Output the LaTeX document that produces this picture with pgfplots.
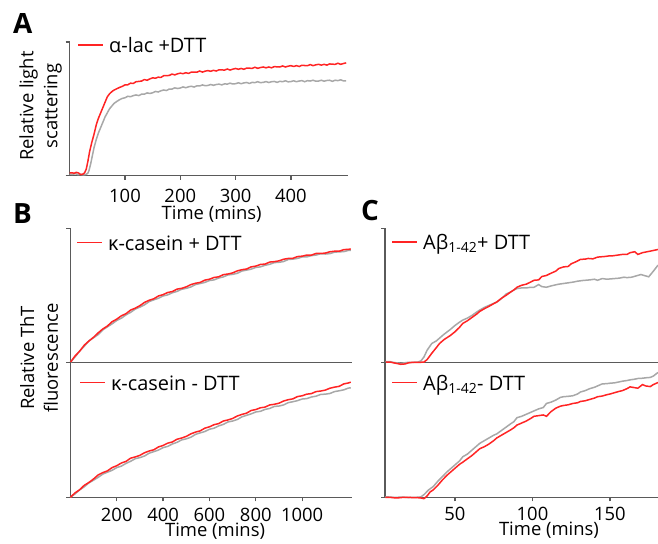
\documentclass[border=0pt]{standalone}
\usepackage{pgfplots}
\pgfplotsset{compat=1.18}
\usepackage{fontspec}
\setmainfont{Open Sans}
\definecolor{cred}{HTML}{FF2424}
\definecolor{cgray}{HTML}{A8A8A8}
\definecolor{caxis}{HTML}{5A5A5A}
\newcommand\tf{\fontsize{18.5}{22}\selectfont}
\newcommand\lf{\fontsize{20}{24}\selectfont}
\newcommand\legline{{\color{cred}\rule[6.9bp]{25bp}{1.5bp}}\hspace{6bp}}
\tikzset{leg/.style={anchor=base west, inner sep=0pt, font=\lf, text=black}}
\pgfplotsset{
  panel/.style={
    scale only axis, anchor=south west, clip=false,
    axis x line*=bottom, axis y line*=left,
    axis line style={draw=caxis, line width=1.4bp},
    ymin=0, ymax=1, ytick={0,1}, yticklabels={},
    tick align=outside, major tick length=4bp,
    tick style={draw=caxis, line width=1.2bp},
    tick label style={font=\tf, text=black},
    xticklabel style={anchor=north, inner sep=0pt, yshift=-6.2bp},
    label style={font=\fontsize{18.5}{24}\selectfont},
    /pgf/number format/assume math mode=true,
    /pgf/number format/set thousands separator={},
  },
  toppanel/.style={xmajorticks=false, xtick={0}, xticklabels={}},
  redl/.style={draw=cred, line width=1.5bp, no markers},
  grayl/.style={draw=cgray, line width=1.5bp, no markers},
}
\begin{document}
\begin{tikzpicture}
\useasboundingbox (0bp,0bp) rectangle (658bp,544bp);
\node[anchor=base west, inner sep=0pt, font=\fontsize{28}{30}\selectfont\bfseries] at (13bp,510.7bp) {A};
\node[anchor=base west, inner sep=0pt, font=\fontsize{28}{30}\selectfont\bfseries] at (13bp,320.7bp) {B};
\node[anchor=base west, inner sep=0pt, font=\fontsize{28}{30}\selectfont\bfseries] at (361bp,323bp) {C};

% ---------------- Panel A
\begin{axis}[panel, at={(69.7bp,368.3bp)}, width=278bp, height=133.7bp,
  xmin=0, xmax=502.7, xtick={100,200,300,400},
  xticklabel style={yshift=-3.4bp},
  xlabel={Time (mins)}, xlabel style={at={(axis description cs:0.5,0)}, anchor=base, yshift=-43.8bp, xshift=3bp},
  ylabel={Relative light\\scattering},
  ylabel style={at={(axis description cs:-0.0277,0.52)}, anchor=south, align=center, inner sep=0pt}]
\addplot[grayl] coordinates {
(0,0.012)(5,0.010)(10,0.015)(15,0.008)(20,0.010)(25,0.006)(30,0.010)(33,0.020)(35,0.040)(38,0.090)(41,0.150)(44,0.210)(48,0.270)(52,0.320)(56,0.360)(60,0.400)(64,0.440)(68,0.470)(72,0.500)(76,0.520)(80,0.540)(85,0.555)(90,0.568)(95,0.578)
(100,.583)(105,.594)(110,.591)(115,.599)(120,.604)(125,.599)(130,.610)(135,.610)(140,.619)(145,.615)(150,.620)(155,.630)(160,.626)(165,.635)(170,.641)(175,.637)(180,.648)(185,.648)(190,.657)(195,.652)(200,.656)(205,.664)(210,.658)(215,.665)(220,.669)(225,.663)(230,.672)(235,.671)(240,.679)(245,.673)(250,.675)(255,.682)(260,.676)(265,.682)(270,.685)(275,.679)(280,.687)(285,.685)(290,.692)(295,.686)(300,.688)(305,.695)(310,.688)(315,.694)(320,.697)(325,.690)(330,.698)(335,.696)(340,.703)(345,.696)(350,.698)(355,.704)(360,.697)(365,.703)(370,.705)(375,.698)(380,.706)(385,.703)(390,.710)(395,.702)(400,.704)(405,.710)(410,.703)(415,.708)(420,.711)(425,.703)(430,.711)(435,.708)(440,.714)(445,.707)(450,.708)(455,.714)(460,.707)(465,.712)(470,.714)(475,.706)(480,.714)(485,.711)(490,.717)(495,.709)(500,.710)};
\addplot[redl] coordinates {
(0,0.020)(4,0.022)(8,0.018)(12,0.025)(16,0.020)(20,0.008)(24,0.012)(27,0.022)(30,0.050)(33,0.110)(36,0.180)(40,0.250)(44,0.310)(48,0.380)(52,0.430)(56,0.470)(60,0.510)(64,0.550)(68,0.590)(72,0.612)(76,0.628)(80,0.640)(85,0.650)(90,0.660)(95,0.668)
(100,.679)(105,.680)(110,.692)(115,.690)(120,.703)(125,.705)(130,.708)(135,.719)(140,.714)(145,.724)(150,.732)(155,.729)(160,.737)(165,.735)(170,.748)(175,.748)(180,.750)(185,.760)(190,.754)(195,.762)(200,.767)(205,.763)(210,.770)(215,.765)(220,.775)(225,.774)(230,.774)(235,.783)(240,.775)(245,.782)(250,.786)(255,.781)(260,.788)(265,.783)(270,.792)(275,.791)(280,.790)(285,.798)(290,.790)(295,.797)(300,.802)(305,.796)(310,.802)(315,.796)(320,.805)(325,.804)(330,.803)(335,.811)(340,.803)(345,.809)(350,.813)(355,.807)(360,.813)(365,.807)(370,.816)(375,.814)(380,.813)(385,.821)(390,.813)(395,.819)(400,.823)(405,.817)(410,.823)(415,.817)(420,.826)(425,.824)(430,.823)(435,.831)(440,.823)(445,.829)(450,.833)(455,.827)(460,.833)(465,.827)(470,.836)(475,.834)(480,.833)(485,.841)(490,.833)(495,.839)(500,.844)};
\node[leg] at (axis description cs:0.030,0.92) {\legline α-lac +DTT};
\end{axis}

% ---------------- Panel B top
\begin{axis}[panel, toppanel, at={(70.4bp,181.7bp)}, width=281.3bp, height=134bp,
  xmin=0, xmax=1214]
\addplot[grayl] coordinates {
(0,0)(20,.040)(40,.084)(60,.120)(80,.160)(100,.183)(120,.207)(140,.242)(160,.265)(180,.287)(200,.312)(220,.329)(240,.354)(260,.373)(280,.397)(300,.412)(320,.429)(340,.453)(360,.466)(380,.478)(400,.495)(420,.503)(440,.519)(460,.529)(480,.545)(500,.552)(520,.562)(540,.580)(560,.588)(580,.596)(600,.610)(620,.615)(640,.629)(660,.637)(680,.652)(700,.656)(720,.664)(740,.681)(760,.688)(780,.695)(800,.708)(820,.712)(840,.724)(860,.731)(880,.744)(900,.746)(920,.752)(940,.767)(960,.770)(980,.775)(1000,.786)(1020,.786)(1040,.796)(1060,.800)(1080,.810)(1100,.808)(1120,.811)(1140,.822)(1160,.824)(1180,.826)(1200,.835)(1210,.835)};
\addplot[redl] coordinates {
(0,0)(20,.047)(40,.083)(60,.128)(80,.159)(100,.187)(120,.220)(140,.249)(160,.271)(180,.303)(200,.322)(220,.347)(240,.363)(260,.390)(280,.404)(300,.423)(320,.447)(340,.463)(360,.474)(380,.495)(400,.505)(420,.521)(440,.528)(460,.546)(480,.552)(500,.563)(520,.580)(540,.590)(560,.596)(580,.613)(600,.620)(620,.633)(640,.638)(660,.654)(680,.659)(700,.667)(720,.682)(740,.691)(760,.696)(780,.712)(800,.718)(820,.730)(840,.733)(860,.748)(880,.751)(900,.757)(920,.769)(940,.775)(960,.776)(980,.789)(1000,.792)(1020,.800)(1040,.800)(1060,.812)(1080,.812)(1100,.815)(1120,.825)(1140,.829)(1160,.829)(1180,.841)(1200,.843)(1210,.846)};
\node[leg] at (axis description cs:0.0235,0.838) {\legline κ-casein + DTT};
\end{axis}

% ---------------- Panel B bottom
\begin{axis}[panel, at={(70.4bp,46.7bp)}, width=281.3bp, height=135bp,
  xmin=0, xmax=1214, xtick={200,400,600,800,1000},
  xlabel={Time (mins)}, xlabel style={at={(axis description cs:0.5,0)}, anchor=base, yshift=-39bp, xshift=4bp},
  ylabel={Relative ThT\\fluorescence},
  ylabel style={at={(axis description cs:-0.043,1.032)}, anchor=south, align=center, inner sep=0pt}]
\addplot[grayl] coordinates {
(0,0)(20,.025)(40,.055)(60,.078)(80,.107)(100,.127)(120,.148)(140,.172)(160,.186)(180,.200)(200,.220)(220,.231)(240,.251)(260,.267)(280,.286)(300,.294)(320,.306)(340,.327)(360,.338)(380,.350)(400,.368)(420,.377)(440,.395)(460,.407)(480,.425)(500,.433)(520,.445)(540,.466)(560,.477)(580,.487)(600,.504)(620,.512)(640,.529)(660,.540)(680,.558)(700,.565)(720,.576)(740,.596)(760,.607)(780,.618)(800,.632)(820,.637)(840,.651)(860,.658)(880,.673)(900,.676)(920,.684)(940,.701)(960,.708)(980,.716)(1000,.728)(1020,.731)(1040,.743)(1060,.749)(1080,.762)(1100,.764)(1120,.769)(1140,.783)(1160,.789)(1180,.796)(1200,.809)(1210,.811)};
\addplot[redl] coordinates {
(0,0)(20,.033)(40,.056)(60,.089)(80,.110)(100,.136)(120,.166)(140,.183)(160,.196)(180,.220)(200,.234)(220,.254)(240,.266)(260,.290)(280,.299)(300,.311)(320,.330)(340,.343)(360,.352)(380,.373)(400,.384)(420,.401)(440,.410)(460,.430)(480,.439)(500,.451)(520,.470)(540,.483)(560,.492)(580,.512)(600,.522)(620,.538)(640,.546)(660,.565)(680,.573)(700,.584)(720,.602)(740,.614)(760,.623)(780,.643)(800,.650)(820,.663)(840,.668)(860,.684)(880,.689)(900,.697)(920,.713)(940,.723)(960,.729)(980,.746)(1000,.752)(1020,.764)(1040,.768)(1060,.783)(1080,.787)(1100,.794)(1120,.808)(1140,.816)(1160,.822)(1180,.840)(1200,.847)(1210,.853)};
\node[leg] at (axis description cs:0.034,0.792) {\legline κ-casein - DTT};
\end{axis}

% ---------------- Panel C top
\begin{axis}[panel, toppanel, at={(385bp,181.7bp)}, width=273bp, height=134bp,
  xmin=4.84, xmax=181]
\addplot[grayl] coordinates {
(5,0.005)(8,0.005)(10,0.000)(13,-0.005)(15,-0.008)(18,-0.003)(20,0.000)(23,0.000)(26,0.002)(28,0.010)(30,0.040)(32,0.090)(35,0.140)(38,0.160)(40,0.180)(43,0.210)(47,0.245)(50,0.275)(53,0.300)(55,0.315)(58,0.330)(61,0.350)(64,0.375)(66,0.390)(69,0.410)(72,0.425)(75,0.440)(77,0.450)(80,0.475)(83,0.510)(86,0.525)(88,0.540)(90,0.550)(93,0.555)(96,0.555)(99,0.560)(101,0.560)(104,0.580)(106,0.565)(109,0.560)(112,0.570)(115,0.578)(117,0.583)(120,0.588)(123,0.593)(126,0.598)(129,0.605)(132,0.610)(134,0.612)(137,0.615)(140,0.620)(142,0.612)(145,0.625)(148,0.620)(150,0.622)(153,0.625)(156,0.628)(159,0.635)(161,0.632)(164,0.635)(167,0.645)(170,0.655)(172,0.648)(175,0.638)(178,0.680)(181,0.725)};
\addplot[redl] coordinates {
(5,0.000)(8,0.002)(10,-0.003)(13,-0.010)(15,-0.015)(18,-0.012)(20,-0.004)(23,0.000)(25,0.000)(28,0.000)(30,0.002)(32,0.020)(35,0.067)(38,0.110)(40,0.140)(43,0.170)(47,0.200)(50,0.228)(53,0.262)(55,0.290)(58,0.310)(61,0.335)(64,0.360)(66,0.380)(69,0.400)(72,0.418)(75,0.438)(77,0.450)(80,0.478)(83,0.500)(86,0.525)(88,0.540)(90,0.560)(93,0.575)(96,0.583)(99,0.600)(101,0.612)(104,0.615)(106,0.640)(109,0.648)(112,0.665)(115,0.680)(117,0.700)(120,0.712)(123,0.715)(125,0.735)(128,0.750)(131,0.768)(134,0.770)(136,0.775)(139,0.772)(142,0.785)(145,0.788)(147,0.790)(150,0.795)(152,0.795)(155,0.800)(158,0.805)(161,0.805)(163,0.818)(166,0.825)(168,0.805)(171,0.818)(174,0.825)(177,0.832)(181,0.842)};
\node[leg] at (axis description cs:0.0256,0.8425) {\legline Aβ\textsubscript{1-42}+ DTT};
\end{axis}

% ---------------- Panel C bottom
\begin{axis}[panel, at={(385bp,46.7bp)}, width=273bp, height=135bp,
  xmin=4.84, xmax=181, xtick={50,100,150},
  xticklabel style={yshift=1bp},
  xlabel={Time (mins)}, xlabel style={at={(axis description cs:0.6007,0)}, anchor=base, yshift=-38.3bp}]
\addplot[grayl] coordinates {
(5,0.003)(8,0.002)(10,0.000)(13,0.000)(15,0.002)(18,0.000)(20,-0.002)(23,0.000)(25,0.000)(28,0.003)(30,0.020)(33,0.055)(36,0.080)(39,0.120)(42,0.155)(45,0.190)(48,0.220)(51,0.250)(53,0.270)(55,0.300)(58,0.320)(61,0.350)(64,0.380)(66,0.400)(69,0.420)(72,0.440)(75,0.460)(77,0.470)(80,0.495)(83,0.520)(86,0.545)(88,0.560)(90,0.590)(93,0.600)(96,0.615)(99,0.630)(101,0.640)(104,0.655)(107,0.665)(109,0.695)(112,0.705)(115,0.720)(118,0.740)(120,0.745)(123,0.748)(126,0.752)(129,0.765)(131,0.780)(134,0.790)(137,0.805)(140,0.815)(142,0.825)(145,0.840)(148,0.842)(150,0.845)(153,0.848)(156,0.855)(158,0.860)(161,0.865)(163,0.870)(166,0.875)(168,0.880)(171,0.882)(173,0.885)(176,0.888)(178,0.898)(181,0.925)};
\addplot[redl] coordinates {
(5,0.000)(8,0.000)(10,-0.003)(13,-0.005)(15,-0.002)(18,0.000)(20,0.000)(23,-0.003)(25,-0.002)(28,-0.005)(30,-0.010)(32,0.010)(34,0.040)(36,0.055)(39,0.090)(42,0.130)(45,0.165)(48,0.195)(51,0.225)(53,0.245)(55,0.260)(58,0.285)(61,0.310)(64,0.340)(66,0.360)(69,0.375)(72,0.395)(75,0.420)(77,0.440)(80,0.460)(83,0.480)(86,0.500)(88,0.515)(90,0.535)(93,0.550)(96,0.565)(99,0.585)(101,0.600)(104,0.605)(107,0.610)(109,0.600)(112,0.635)(115,0.660)(118,0.675)(120,0.680)(123,0.685)(126,0.695)(129,0.700)(131,0.710)(134,0.715)(137,0.725)(140,0.735)(142,0.745)(145,0.750)(148,0.760)(150,0.765)(153,0.775)(156,0.785)(158,0.790)(161,0.805)(163,0.818)(166,0.812)(168,0.808)(171,0.835)(173,0.825)(176,0.820)(178,0.835)(181,0.850)};
\node[leg] at (axis description cs:0.0256,0.792) {\legline Aβ\textsubscript{1-42}- DTT};
\end{axis}
\end{tikzpicture}
\end{document}
